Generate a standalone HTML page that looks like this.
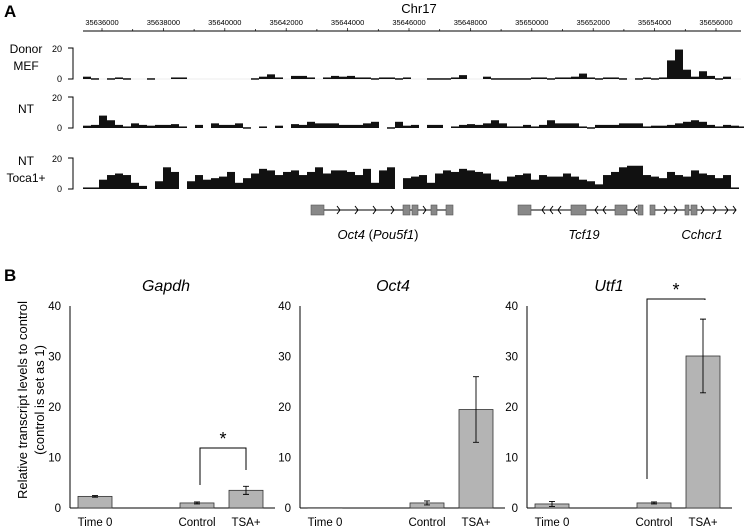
<!DOCTYPE html>
<html><head><meta charset="utf-8"><style>
body{margin:0;background:#fff}
svg{display:block;font-family:"Liberation Sans",Arial,sans-serif}
</style></head><body>
<svg id="fig" width="744" height="531" viewBox="0 0 744 531">
<g id="trackG"></g>
<g id="geneG"></g>
<g id="barG"></g>
</svg>
<script>
// ---- data: genome tracks (bins of 8px across region) ----
const tickLabels = ["35636000","35638000","35640000","35642000","35644000","35646000","35648000","35650000","35652000","35654000","35656000"];
const trackNames = ["Donor MEF","NT","NT Toca1+"];
const donorVals = [1.5,0.5,0,0.5,1,0.5,0,0,0.5,0, 0,1,1,0,0,0,0,0,0,0, 0,0.5,1.5,3,1,0,2,2,1,0, 1,2,1.5,2,1,1,0.5,1,1,0.5, 1,0,0,0.5,0.5,0.5,1,2.5,0,0, 1.5,0.5,0.5,0.5,0.5,0.5,1,1,0.5,1, 1,1.5,3.5,1,0.5,1,1,0.5,0,0.5, 1,0.5,1,12,19,6,1.5,5,2,0.5, 1.5,0];
const ntVals = [1.5,2,8,5,2,1,3,2,1.5,2, 2,2.5,1,0,2,0,3,2,2,3, 0.5,0,1,0,1.5,0,2.5,2,4,3, 3,3,2,2,2,3,4,0,0.5,4, 1.5,2,0,2,2,0,1,2,2.5,2, 3,5,3,1,1,2,1,2,5,3, 3,3,1,0.5,2,2,2,3,3,3, 1,1.5,1.5,2,3,4,5,4,2,1, 2,1.5,1];
const tocaVals = [1,1,6,9,10,9,4,2,0,5, 14,11,0,5,9,6,7,8,11,4, 7,10,13,12,9,11,12,9,11,14, 10,12,12,11,9,13,4,12,14,0, 7,8,9,4,10,12,11,13,12,11, 10,6,5,8,9,10,6,9,8,8, 10,8,6,5,3,9,11,14,15,15, 9,8,7,11,9,8,12,10,9,7, 9,1];
// ---- data: bar charts ----
const groups = ["Time 0","Control","TSA+"];
const gapdhVals = [2.3,1.0,3.5];
const gapdhErr = [0.15,0.2,0.8];
const oct4Vals = [0.05,1.0,19.5];
const oct4Err = [0,0.4,6.5];
const utf1Vals = [0.8,1.0,30.1];
const utf1Err = [0.5,0.2,7.3];
const yTicks = [0,10,20,30,40];

const NS="http://www.w3.org/2000/svg";
function mk(tag,attrs,parent,text){const e=document.createElementNS(NS,tag);for(const k in attrs)e.setAttribute(k,attrs[k]);if(text!==undefined)e.textContent=text;parent.appendChild(e);return e;}
const svg=document.getElementById('fig');
const tG=document.getElementById('trackG');
let t;
// panel letters
t=mk('text',{x:4,y:17,'font-size':17,'font-weight':'bold'},svg,'A');


t=mk('text',{x:4,y:281,'font-size':17,'font-weight':'bold'},svg,'B');


// chromosome axis
t=mk('text',{x:419,y:13,'font-size':13,'text-anchor':'middle'},tG,'Chr17');


const ax=mk('line',{x1:83,x2:741,y1:31,y2:31,stroke:'#000','stroke-width':1},tG);


function gx(i){return 102+i*61.4;}
tickLabels.forEach((l,i)=>{
  const x=gx(i);
  mk('line',{x1:x,x2:x,y1:28,y2:31,stroke:'#000','stroke-width':0.7},tG);
  mk('line',{x1:x+30.7,x2:x+30.7,y1:29,y2:31,stroke:'#000','stroke-width':0.7},tG);
  t=mk('text',{x:x,y:25,'font-size':7.5,'text-anchor':'middle'},tG,l);
  
  
});
const tracks=[{vals:donorVals,base:79,labels:["Donor","MEF"],ly:[53,70]},{vals:ntVals,base:128,labels:["NT"],ly:[113]},{vals:tocaVals,base:189,labels:["NT","Toca1+"],ly:[165,182]}];
tracks.forEach((tr,ti)=>{
  const top=tr.base-31;
  const g=mk('g',{},tG);
  
  
  tr.labels.forEach((l,j)=>{t=mk('text',{x:26,y:tr.ly[j],'font-size':12,'text-anchor':'middle'},g,l);
    
    });
  mk('path',{d:`M68 ${top}H73V${tr.base}H68`,fill:'none',stroke:'#000','stroke-width':1},g);
  mk('text',{x:62,y:top+4,'font-size':9,'text-anchor':'end'},g,'20');
  mk('text',{x:62,y:tr.base+3,'font-size':9,'text-anchor':'end'},g,'0');
  if(ti===0)mk('line',{x1:83,x2:741,y1:tr.base,y2:tr.base,stroke:'#ddd','stroke-width':0.5},g);
  tr.vals.forEach((v,i)=>{
    if(v<=0)return;
    const h=v/20*31;
    const b=mk('rect',{x:83+i*8,y:tr.base-h,width:8,height:Math.max(h,1.5),fill:'#111'},g);
    
    
  });
});
// genes
const gG=document.getElementById('geneG');
function gene(name,x1,x2,exons,arrows,dir,lx,label){
  const g=mk('g',{},gG);
  
  
  mk('line',{x1:x1,x2:x2,y1:210,y2:210,stroke:'#000','stroke-width':1},g);
  arrows.forEach(a=>{const d=dir>0?`M${a-3} 206L${a} 210L${a-3} 214`:`M${a+3} 206L${a} 210L${a+3} 214`;mk('path',{d:d,fill:'none',stroke:'#000','stroke-width':1},g);});
  exons.forEach(e=>mk('rect',{x:e[0],y:205,width:e[1]-e[0],height:10,fill:'#888',stroke:'#555','stroke-width':0.6},g));
  const tx=mk('text',{x:lx,y:239,'font-size':13,'font-style':'italic','text-anchor':'middle'},g);
  tx.innerHTML=label;
}
gene('oct4-gene',311,453,[[311,324],[403,410],[412,418],[431,437],[446,453]],[340,358,376,394,426],1,378,'Oct4 <tspan font-style="normal">(</tspan>Pou5f1<tspan font-style="normal">)</tspan>');
gene('tcf19-gene',518,643,[[518,531],[571,586],[615,627],[638,643]],[542,550,558,595,603,634],-1,584,'Tcf19');
gene('cchcr1-gene',650,736,[[650,655],[685,689],[691,697]],[667,677,704,716,728,736],1,702,'Cchcr1');
// bar charts
const bG=document.getElementById('barG');
const y0=508,pxu=5.05;
function vy(v){return y0-v*pxu;}
t=mk('text',{transform:'translate(27,400) rotate(-90)','font-size':13,'text-anchor':'middle'},bG,'Relative transcript levels to control');


t=mk('text',{transform:'translate(44,400) rotate(-90)','font-size':13,'text-anchor':'middle'},bG,'(control is set as 1)');


const charts=[{name:'Gapdh',ax:70,vals:gapdhVals,err:gapdhErr,tx:166},{name:'Oct4',ax:300,vals:oct4Vals,err:oct4Err,tx:393},{name:'Utf1',ax:527,vals:utf1Vals,err:utf1Err,tx:609}];
const barOff=[8,110,159],barW=34;
charts.forEach((c,ci)=>{
  const g=mk('g',{},bG);
  
  
  mk('line',{x1:c.ax,x2:c.ax,y1:vy(40),y2:y0,stroke:'#000','stroke-width':1},g);
  mk('line',{x1:c.ax,x2:c.ax+205,y1:y0,y2:y0,stroke:'#000','stroke-width':1},g);
  yTicks.forEach(v=>{t=mk('text',{x:c.ax-9,y:vy(v)+4,'font-size':11.5,'text-anchor':'end'},g,String(v));
    
    });
  t=mk('text',{x:c.tx,y:291,'font-size':16,'font-style':'italic','text-anchor':'middle'},g,c.name);
  
  
  c.vals.forEach((v,i)=>{
    const x=c.ax+barOff[i];
    const b=mk('rect',{x:x,y:vy(v),width:barW,height:v*pxu,fill:'#b4b4b4',stroke:'#333','stroke-width':0.8},g);
    
    
    const e=c.err[i];
    if(e>0){const cx=x+barW/2;
      mk('path',{d:`M${cx} ${vy(v+e)}V${vy(v-e)}M${cx-3} ${vy(v+e)}H${cx+3}M${cx-3} ${vy(v-e)}H${cx+3}`,stroke:'#000','stroke-width':0.9,fill:'none'},g);}
    t=mk('text',{x:x+barW/2,y:526,'font-size':11.5,'text-anchor':'middle'},g,groups[i]);
    
    
  });
});
function sig(x1,x2,yLow1,yLow2,yTop){
  const g=mk('g',{},bG);
  
  
  mk('path',{d:`M${x1} ${yLow1}V${yTop}H${x2}V${yLow2}`,fill:'none',stroke:'#000','stroke-width':1},g);
  mk('text',{x:(x1+x2)/2,y:yTop-3,'font-size':18,'text-anchor':'middle'},g,'*');
}
sig(200,246,485,470,448);
sig(647,705,479,300,299);
</script>
</body></html>
